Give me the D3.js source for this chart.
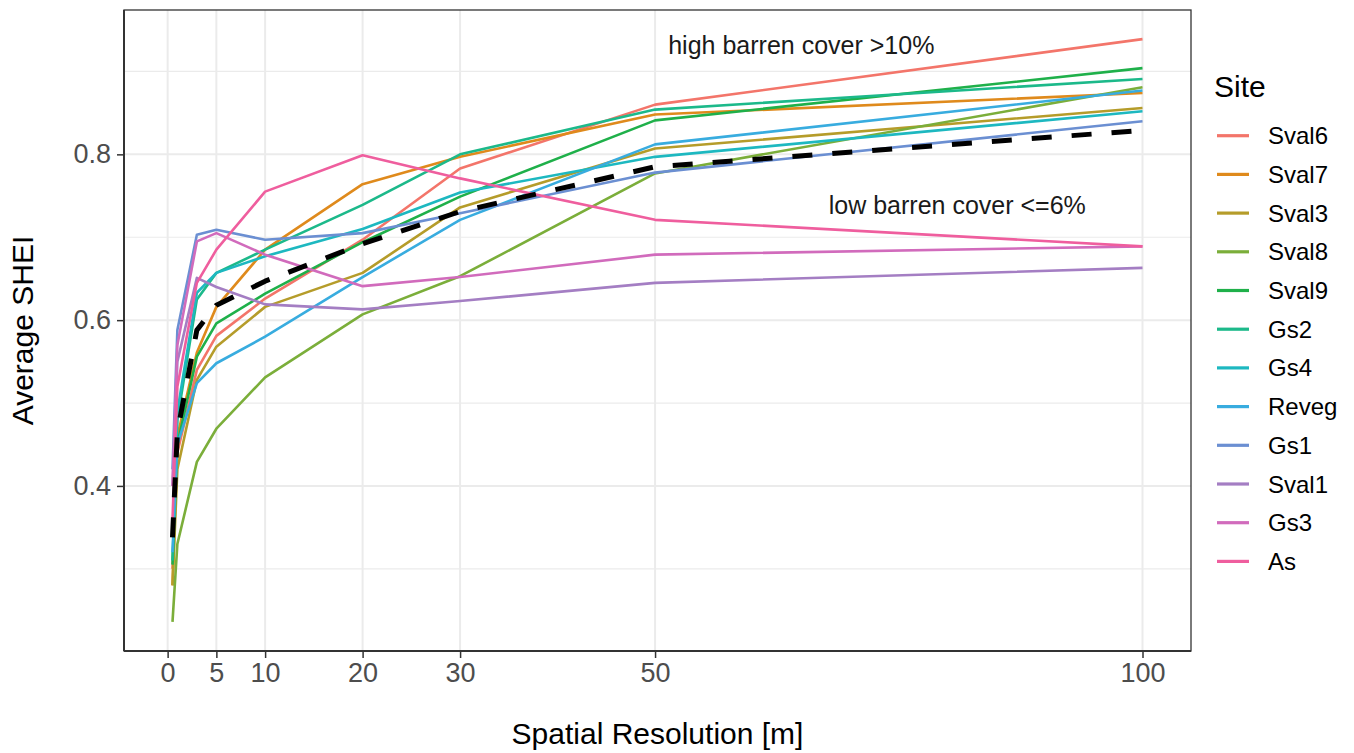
<!DOCTYPE html>
<html>
<head>
<meta charset="utf-8">
<script src="https://cdn.jsdelivr.net/npm/d3@7"></script>
<style>
  html, body { margin: 0; padding: 0; background: #fff; }
  svg { display: block; font-family: "Liberation Sans", Arial, Helvetica, sans-serif; }
</style>
</head>
<body>
<svg id="chart" width="1354" height="753"></svg>
<script>
// Spatial resolution (m) at which SHEI was averaged
const resolution = [0.5, 1, 3, 5, 10, 20, 30, 50, 100];

// Average SHEI per site
const sites = ["Sval6", "Sval7", "Sval3", "Sval8", "Sval9", "Gs2", "Gs4", "Reveg", "Gs1", "Sval1", "Gs3", "As"];
const sval6 = [0.300, 0.440, 0.540, 0.581, 0.626, 0.697, 0.783, 0.860, 0.939];
const sval7 = [0.280, 0.460, 0.561, 0.616, 0.685, 0.764, 0.797, 0.848, 0.874];
const sval3 = [0.280, 0.420, 0.528, 0.568, 0.616, 0.657, 0.736, 0.807, 0.856];
const sval8 = [0.236, 0.330, 0.429, 0.469, 0.531, 0.607, 0.653, 0.777, 0.881];
const sval9 = [0.305, 0.450, 0.556, 0.596, 0.632, 0.694, 0.749, 0.841, 0.904];
const gs2   = [0.310, 0.480, 0.625, 0.657, 0.685, 0.739, 0.800, 0.854, 0.891];
const gs4   = [0.340, 0.490, 0.633, 0.657, 0.677, 0.710, 0.754, 0.797, 0.852];
const reveg = [0.320, 0.450, 0.524, 0.548, 0.580, 0.652, 0.721, 0.812, 0.877];
const gs1   = [0.420, 0.588, 0.703, 0.709, 0.697, 0.705, 0.729, 0.778, 0.840];
const sval1 = [0.400, 0.550, 0.651, 0.640, 0.619, 0.613, 0.623, 0.645, 0.663];
const gs3   = [0.400, 0.570, 0.695, 0.705, 0.679, 0.641, 0.652, 0.679, 0.689];
const as    = [0.360, 0.520, 0.645, 0.685, 0.755, 0.799, 0.771, 0.721, 0.689];
// Mean over all sites (dashed)
const siteMean = [0.338, 0.465, 0.588, 0.618, 0.647, 0.692, 0.731, 0.785, 0.829];

const seriesValues = [sval6, sval7, sval3, sval8, sval9, gs2, gs4, reveg, gs1, sval1, gs3, as];
const siteColors = ["#F3756A", "#DF8A1C", "#B59C2A", "#7BAE3A", "#1FB04A", "#1CB98A",
                    "#1DB8C0", "#38ACDF", "#6B8FD2", "#A47EC3", "#D16BBC", "#EF5E9E"];

const xTicks = [0, 5, 10, 20, 30, 50, 100];
const yTicks = [0.4, 0.6, 0.8];
const yMinor = [0.3, 0.5, 0.7, 0.9];

const annotations = [
  { text: "high barren cover >10%", x: 65, y: 0.932 },
  { text: "low barren cover <=6%", x: 81, y: 0.739 }
];

const svg = d3.select("#chart");
const panel = { left: 124, right: 1191, top: 10, bottom: 651 };

// ggplot-style 5% expansion of the data range
function expand(ext) {
  const pad = (ext[1] - ext[0]) * 0.05;
  return [ext[0] - pad, ext[1] + pad];
}
const allVals = seriesValues.flat().concat(siteMean);
const x = d3.scaleLinear().domain(expand(d3.extent(resolution))).range([panel.left, panel.right]);
const y = d3.scaleLinear().domain(expand(d3.extent(allVals))).range([panel.bottom, panel.top]);

// grid
const grid = svg.append("g");
grid.selectAll(".ymin").data(yMinor).join("line")
  .attr("x1", panel.left).attr("x2", panel.right)
  .attr("y1", d => y(d)).attr("y2", d => y(d))
  .attr("stroke", "#EBEBEB").attr("stroke-width", 1.2);
grid.selectAll(".ymaj").data(yTicks).join("line")
  .attr("x1", panel.left).attr("x2", panel.right)
  .attr("y1", d => y(d)).attr("y2", d => y(d))
  .attr("stroke", "#EBEBEB").attr("stroke-width", 2);
grid.selectAll(".xmaj").data(xTicks).join("line")
  .attr("y1", panel.top).attr("y2", panel.bottom)
  .attr("x1", d => x(d)).attr("x2", d => x(d))
  .attr("stroke", "#EBEBEB").attr("stroke-width", 2);

// site lines
const line = d3.line().x((d, i) => x(resolution[i])).y(d => y(d));
const lines = svg.append("g").attr("fill", "none").attr("stroke-linejoin", "round");
seriesValues.forEach((vals, k) => {
  lines.append("path").attr("d", line(vals))
    .attr("stroke", siteColors[k]).attr("stroke-width", 2.6);
});
lines.append("path").attr("d", line(siteMean))
  .attr("stroke", "#000").attr("stroke-width", 5)
  .attr("stroke-dasharray", "20 20");

// annotations
svg.append("g").selectAll("text").data(annotations).join("text")
  .attr("x", d => x(d.x)).attr("y", d => y(d.y))
  .attr("text-anchor", "middle").attr("dominant-baseline", "central")
  .attr("font-size", 25).attr("fill", "#1a1a1a")
  .text(d => d.text);

// panel border and axis lines
svg.append("rect")
  .attr("x", panel.left).attr("y", panel.top)
  .attr("width", panel.right - panel.left).attr("height", panel.bottom - panel.top)
  .attr("fill", "none").attr("stroke", "#333").attr("stroke-width", 1.3);

const xAxis = svg.append("g").attr("transform", `translate(0,${panel.bottom})`)
  .call(d3.axisBottom(x).tickValues(xTicks).tickFormat(d3.format("d")).tickSize(7).tickPadding(5));
const yAxis = svg.append("g").attr("transform", `translate(${panel.left},0)`)
  .call(d3.axisLeft(y).tickValues(yTicks).tickFormat(d3.format(".1f")).tickSize(7).tickPadding(6));
[xAxis, yAxis].forEach(g => {
  g.select(".domain").attr("stroke", "#333").attr("stroke-width", 2);
  g.selectAll(".tick line").attr("stroke", "#333").attr("stroke-width", 1.5);
  g.selectAll(".tick text").attr("fill", "#4D4D4D").attr("font-size", 27)
    .attr("font-family", "'Liberation Sans', Arial, sans-serif");
});
xAxis.select(".domain").attr("d", `M${panel.left},0H${panel.right}`);
yAxis.select(".domain").attr("d", `M0,${panel.top}V${panel.bottom}`);

// axis titles
svg.append("text").attr("x", (panel.left + panel.right) / 2).attr("y", 744)
  .attr("text-anchor", "middle").attr("font-size", 30).attr("fill", "#000")
  .text("Spatial Resolution [m]");
svg.append("text")
  .attr("transform", `translate(33,${(panel.top + panel.bottom) / 2}) rotate(-90)`)
  .attr("text-anchor", "middle").attr("font-size", 30).attr("fill", "#000")
  .text("Average SHEI");

// legend
const legend = svg.append("g").attr("transform", "translate(1214,0)");
legend.append("text").attr("x", 0).attr("y", 97).attr("font-size", 30).attr("fill", "#000").text("Site");
const rows = legend.selectAll(".row").data(sites).join("g")
  .attr("transform", (d, i) => `translate(0,${135.7 + i * 38.7})`);
rows.append("line").attr("x1", 3).attr("x2", 35).attr("y1", 0).attr("y2", 0)
  .attr("stroke", (d, i) => siteColors[i]).attr("stroke-width", 3.2);
rows.append("text").attr("x", 54).attr("y", 0).attr("dominant-baseline", "central")
  .attr("font-size", 24).attr("fill", "#000").text(d => d);
</script>
</body>
</html>
